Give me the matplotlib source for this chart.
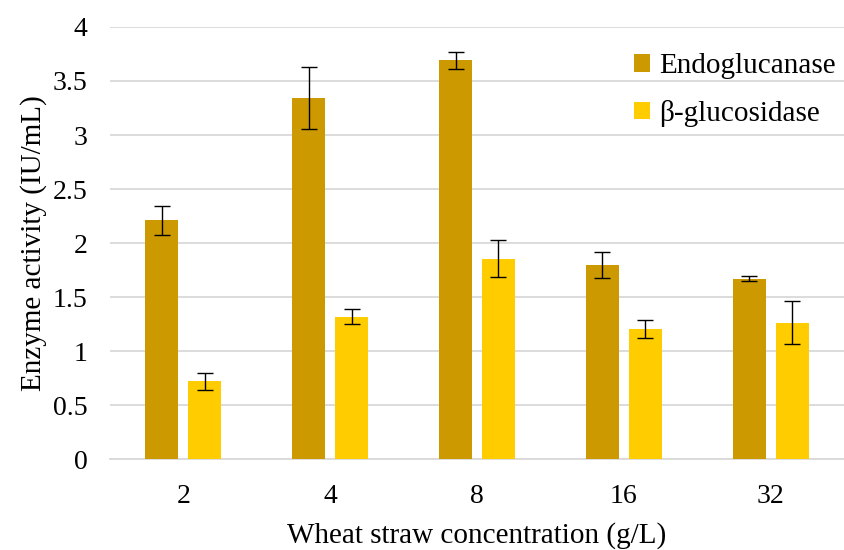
import matplotlib
matplotlib.use("Agg")
import matplotlib.pyplot as plt
import numpy as np

# datos
conc = ['2', '4', '8', '16', '32']
endo = [2.21, 3.34, 3.69, 1.80, 1.67]
endo_err = [0.135, 0.285, 0.078, 0.12, 0.023]
beta = [0.72, 1.32, 1.855, 1.205, 1.265]
beta_err = [0.075, 0.073, 0.17, 0.087, 0.20]

plt.rcParams['font.family'] = ['Liberation Serif', 'DejaVu Serif']

fig = plt.figure(figsize=(8.45, 5.5), dpi=100)
ax = fig.add_axes([0.130, 0.165, 0.869, 0.786])

x = np.arange(len(conc))
width = 0.225
off = 0.146
err_kw = dict(ecolor='black', elinewidth=1.0, capsize=6, capthick=1.0)
ax.bar(x - off, endo, width, yerr=endo_err, color='#CC9900', label='Endoglucanase',
       error_kw=err_kw, zorder=3)
ax.bar(x + off, beta, width, yerr=beta_err, color='#FFCC00', label='β-glucosidase',
       error_kw=err_kw, zorder=3)

ax.set_xlim(-0.5, 4.5)
ax.set_ylim(0, 4)
ax.set_yticks(np.arange(0, 4.01, 0.5))
ax.set_yticklabels(['0', '0.5', '1', '1.5', '2', '2.5', '3', '3.5', '4'])
ax.set_xticks(x)
ax.set_xticklabels(conc)
ax.tick_params(axis='both', length=0, labelsize=20)
ax.tick_params(axis='x', pad=18)
ax.tick_params(axis='y', pad=16)
ax.grid(axis='y', color='#D9D9D9', linewidth=1.3, zorder=0)
ax.set_axisbelow(True)
for s in ['top', 'right', 'left']:
    ax.spines[s].set_visible(False)
ax.spines['bottom'].set_color('#D9D9D9')
ax.spines['bottom'].set_linewidth(1.3)

ax.set_xlabel('Wheat straw concentration (g/L)', fontsize=21, labelpad=9)
ax.set_ylabel('Enzyme activity (IU/mL)', fontsize=21, labelpad=4)

ax.legend(loc='upper right', bbox_to_anchor=(1.024, 1.0), frameon=False, fontsize=21,
          handlelength=0.55, handleheight=0.55, handletextpad=0.3, labelspacing=0.7)

fig.savefig('out.png', dpi=100)
